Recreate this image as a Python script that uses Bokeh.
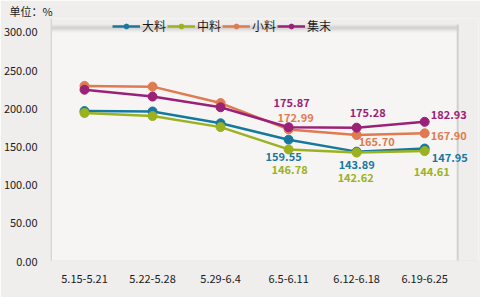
from bokeh.plotting import figure
from bokeh.models import (Range1d, FixedTicker, NumeralTickFormatter, Span,
                          Legend, LegendItem, BoxAnnotation, ColumnDataSource)
from bokeh.core.properties import value
from bokeh.embed import file_html
from bokeh.resources import INLINE

# ---- data ----
categories = ["5.15-5.21", "5.22-5.28", "5.29-6.4", "6.5-6.11", "6.12-6.18", "6.19-6.25"]
series_names = ["大料", "中料", "小料", "集末"]
da_liao = [197.0, 196.5, 181.0, 159.55, 143.89, 147.95]
zhong_liao = [194.5, 190.5, 176.0, 146.78, 142.62, 144.61]
xiao_liao = [230.0, 229.0, 207.5, 172.99, 165.70, 167.90]
ji_mo = [225.0, 216.0, 202.0, 175.87, 175.28, 182.93]
y_ticks = [0, 50, 100, 150, 200, 250, 300]
unit_text = "单位：%"

series = [da_liao, zhong_liao, xiao_liao, ji_mo]
colors = ["#17789f", "#9ab21f", "#e07a50", "#9b2178"]
xs = list(range(len(categories)))

# label offsets (screen px) for the last three points of each series
label_offsets = {
    0: [(-5, 17), (0, 13), (25, 9)],
    1: [(1, 20), (-1, 25), (7, 20)],
    2: [(7, -12), (20, 7), (24, 2)],
    3: [(3, -25), (11, -15), (24, -7)],
}

FONT = "Noto Sans CJK SC"
OUTER = "#efeeec"
CARD = "#f6f5f3"
PX = 230 / 300                # pixels per unit on y
X_END = 5.5 + 20 / 68.67      # card ends at 5.5; extra room for labels
Y_END = 244 / PX              # frame top (below the title) to keep 300 at card top
CARD_TOP = 238 / PX

p = figure(width=480, height=297, x_range=Range1d(-0.5, X_END),
           y_range=Range1d(0, Y_END), output_backend="svg", toolbar_location=None,
           min_border_left=46, min_border_right=2, min_border_top=0, min_border_bottom=36)
p.title.text = unit_text
p.title.align = "left"
p.title.offset = -41
p.title.standoff = 0
p.title.text_font = FONT
p.title.text_font_size = "11px"
p.title.text_font_style = "normal"
p.title.text_color = "#1a1a1a"

p.border_fill_color = OUTER
p.background_fill_color = CARD
p.outline_line_color = None
p.xgrid.grid_line_color = None
p.ygrid.grid_line_color = None

for ax in (p.xaxis[0], p.yaxis[0]):
    ax.axis_line_color = None
    ax.major_tick_line_color = None
    ax.minor_tick_line_color = None
    ax.major_label_text_font = FONT
    ax.major_label_text_font_size = "11px"
    ax.major_label_text_color = "#1a1a1a"
p.yaxis.ticker = FixedTicker(ticks=y_ticks)
p.yaxis.formatter = NumeralTickFormatter(format="0.00")
p.yaxis.major_label_standoff = 7
p.xaxis.ticker = FixedTicker(ticks=xs)
p.xaxis.major_label_overrides = {i: c for i, c in zip(xs, categories)}
p.xaxis.major_label_standoff = 7

# outer background around the card (right and top)
p.add_layout(BoxAnnotation(left=5.5, fill_color=OUTER, fill_alpha=1, line_color=None,
                           level="underlay"))
p.add_layout(BoxAnnotation(bottom=CARD_TOP, fill_color=OUTER, fill_alpha=1, line_color=None,
                           level="underlay"))
# top shadow band of the card
band = (CARD_TOP - 300) / 8
for i, a in enumerate([0.04, 0.09, 0.16, 0.24, 0.30, 0.28, 0.20, 0.10]):
    lo = 300 + i * band
    p.add_layout(BoxAnnotation(bottom=lo, top=lo + band, right=5.5, fill_color="#7a7a7a",
                               fill_alpha=a, line_color=None, level="underlay"))
# card side borders
p.add_layout(Span(location=-0.5, dimension="height", line_color="#d6d6d6", line_width=3,
                  level="underlay"))
p.add_layout(BoxAnnotation(bottom=0, top=CARD_TOP, left=5.5 - 2 / 68.67, right=5.5,
                           fill_color="#cfcfcf", fill_alpha=1, line_color=None,
                           level="underlay"))
p.add_layout(Span(location=0, dimension="width", line_color="#e6e6e6", line_width=2,
                  level="underlay"))

items = []
for k, (name, vals, c) in enumerate(zip(series_names, series, colors)):
    src = ColumnDataSource(dict(x=xs, y=vals))
    r = p.line("x", "y", source=src, line_color=c, line_width=2.5)
    s = p.scatter("x", "y", source=src, size=9, fill_color=c, line_color=c)
    items.append(LegendItem(label=name, renderers=[r, s]))
    offs = label_offsets[k]
    lsrc = ColumnDataSource(dict(x=xs[3:], y=vals[3:],
                                 t=["%.2f" % v for v in vals[3:]],
                                 dx=[o[0] for o in offs], dy=[o[1] for o in offs]))
    p.text("x", "y", text="t", source=lsrc, x_offset="dx", y_offset="dy",
           text_color=c, text_font=value(FONT), text_font_size="11px",
           text_font_style="bold", text_align="center", text_baseline="middle")

legend = Legend(items=items, orientation="horizontal", location=(62, 227),
                glyph_width=28, glyph_height=12, label_standoff=2, spacing=1,
                padding=0, margin=0, background_fill_alpha=0, border_line_color=None,
                label_text_font=FONT, label_text_font_size="12px",
                label_text_color="#1a1a1a", label_height=12)
p.add_layout(legend, "center")

open("out.html", "w").write(file_html(p, INLINE))
